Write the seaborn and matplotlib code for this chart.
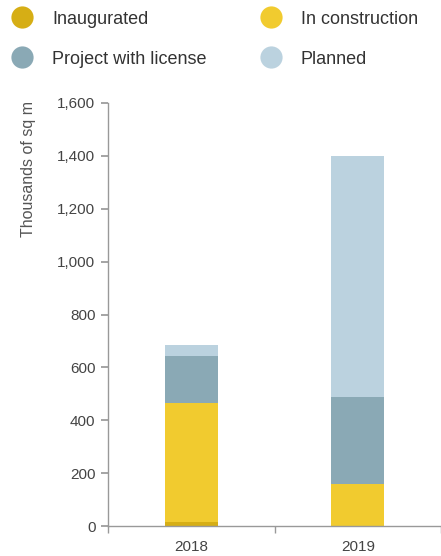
import matplotlib
matplotlib.use("Agg")
import matplotlib.pyplot as plt
import seaborn as sns
import numpy as np
import pandas as pd
from matplotlib.ticker import FuncFormatter, FixedLocator

years = ["2018", "2019"]
series_names = ["Inaugurated", "In construction", "Project with license", "Planned"]
inaugurated = [15, 0]
in_construction = [450, 160]
project_with_license = [178, 328]
planned = [42, 912]
colors = ["#D6AE15", "#F1CB2F", "#8AA9B5", "#BBD2DF"]
yticks = [0, 200, 400, 600, 800, 1000, 1200, 1400, 1600]

sns.set_theme(style="white")
plt.rcParams['font.family'] = ['Liberation Sans', 'DejaVu Sans']

fig = plt.figure(figsize=(4.41, 5.56), dpi=100)
ax = fig.add_axes([108/441, 1 - 526/556, 1 - 108/441, (526 - 103)/556])

layers = [inaugurated, in_construction, project_with_license, planned]
cum = np.cumsum(np.array(layers), axis=0)
# draw from top layer down so lower layers overlap
for i in range(len(layers) - 1, -1, -1):
    df = pd.DataFrame({"year": years, "value": cum[i]})
    sns.barplot(data=df, x="year", y="value", color=colors[i], width=0.32,
                saturation=1, ax=ax, linewidth=0, errorbar=None)

ax.set_xlim(-0.5, 1.5)
ax.set_ylim(0, 1600)
ax.yaxis.set_major_locator(FixedLocator(yticks))
ax.yaxis.set_major_formatter(FuncFormatter(lambda v, p: f"{int(v):,}"))
ax.set_xlabel("")
ax.set_ylabel("Thousands of sq m", fontsize=11.5, color="#555555")
ax.yaxis.set_label_coords(-0.216, 0.844)
for s in ["top", "right"]:
    ax.spines[s].set_visible(False)
for s in ["left", "bottom"]:
    ax.spines[s].set_color("#999999")
    ax.spines[s].set_linewidth(1)
ax.tick_params(axis="y", which="major", left=True, length=5, color="#999999",
               labelsize=11, labelcolor="#444444", pad=4)
ax.tick_params(axis="x", which="major", bottom=False, labelsize=11,
               labelcolor="#444444", pad=4)
ax.set_xticks([-0.5, 0.5, 1.5], minor=True)
ax.tick_params(axis="x", which="minor", bottom=True, length=5, color="#999999")

# legend
lax = fig.add_axes([0, 0, 1, 1], facecolor="none")
lax.set_xlim(0, 441)
lax.set_ylim(556, 0)
lax.axis("off")
pos = [(22, 17), (271, 17), (22, 57), (271, 57)]
for (x, y), name, c in zip(pos, series_names, colors):
    lax.plot([x], [y], marker="o", markersize=16, color=c, markeredgewidth=0)
    lax.text(x + 30, y + 2, name, fontsize=13, color="#333333", va="center", ha="left")

fig.savefig("out.png", dpi=100)
